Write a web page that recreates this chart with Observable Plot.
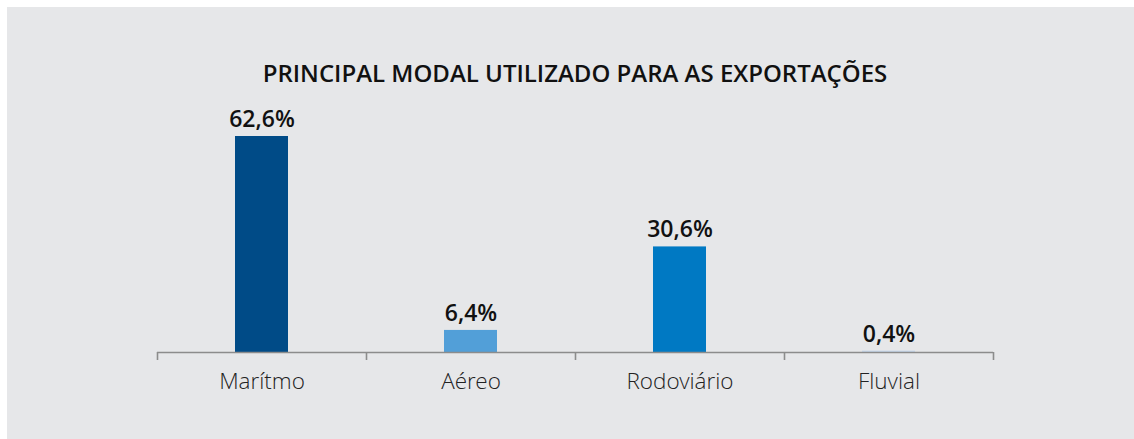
<!DOCTYPE html>
<html>
<head>
<meta charset="utf-8">
<script src="https://cdn.jsdelivr.net/npm/d3@7"></script>
<script src="https://cdn.jsdelivr.net/npm/@observablehq/plot@0.6"></script>
<style>
  html, body { margin: 0; padding: 0; background: #ffffff; }
  #wrap { position: relative; width: 1134px; height: 439px; overflow: hidden; }
  #panel { position: absolute; left: 7px; top: 7px; right: 0; bottom: 0; background: #e6e7e9; }
  #title { position: absolute; left: 0; width: 1150px; top: 60.5px; text-align: center; line-height: 1;
           font-family: "Open Sans", sans-serif; font-weight: 600; font-size: 24px; color: #111; }
  #chart { position: absolute; left: 0; top: 0; }
  svg { overflow: visible; }
</style>
</head>
<body>
<div id="wrap">
  <div id="panel"></div>
  <div id="chart"></div>
  <div id="title">PRINCIPAL MODAL UTILIZADO PARA AS EXPORTAÇÕES</div>
</div>
<script>
const categories = ["Marítmo", "Aéreo", "Rodoviário", "Fluvial"];
const values = [62.6, 6.4, 30.6, 0.4];
const labels = ["62,6%", "6,4%", "30,6%", "0,4%"];
const colors = ["#004b87", "#529fd8", "#0079c3", "#c7d8ec"];

const data = categories.map((c, i) => ({cat: c, value: values[i], label: labels[i], color: colors[i]}));

const W = 1134, H = 439;
const xLeft = 157, xRight = 993;
const step = (xRight - xLeft) / categories.length;
const boundaries = categories.map(c => ({cat: c, dx: -step / 2}))
  .concat([{cat: categories[categories.length - 1], dx: step / 2}]);

const plot = Plot.plot({
  width: W,
  height: H,
  marginLeft: xLeft,
  marginRight: W - xRight,
  marginTop: 0,
  marginBottom: H - 352,
  style: {background: "transparent", fontFamily: "'Open Sans', sans-serif", overflow: "visible"},
  x: {domain: categories, paddingInner: 0.746, paddingOuter: 0.373, label: null, axis: null},
  y: {domain: [0, 62.6], range: [352, 136], axis: null},
  marks: [
    Plot.barY(data, {x: "cat", y: "value", fill: "color"}),
    Plot.ruleY([0], {stroke: "#8c8c8c", strokeWidth: 1.6}),
    ...boundaries.map(b => Plot.ruleX([b], {x: "cat", y1: 0, y2: 0, insetBottom: -8, dx: b.dx, stroke: "#8c8c8c", strokeWidth: 1.6})),
    Plot.text(data, {x: "cat", y: "value", text: "label", lineAnchor: "bottom", dy: -9.5,
      fontSize: 23, fontWeight: 600, fill: "#111"}),
    Plot.axisX({tickSize: 0, tickPadding: 21, fontSize: 22.5, fontWeight: 300, fill: "#222",
      fontFamily: "'Open Sans Light', 'Open Sans', sans-serif", label: null})
  ]
});
document.getElementById("chart").appendChild(plot);
</script>
</body>
</html>
